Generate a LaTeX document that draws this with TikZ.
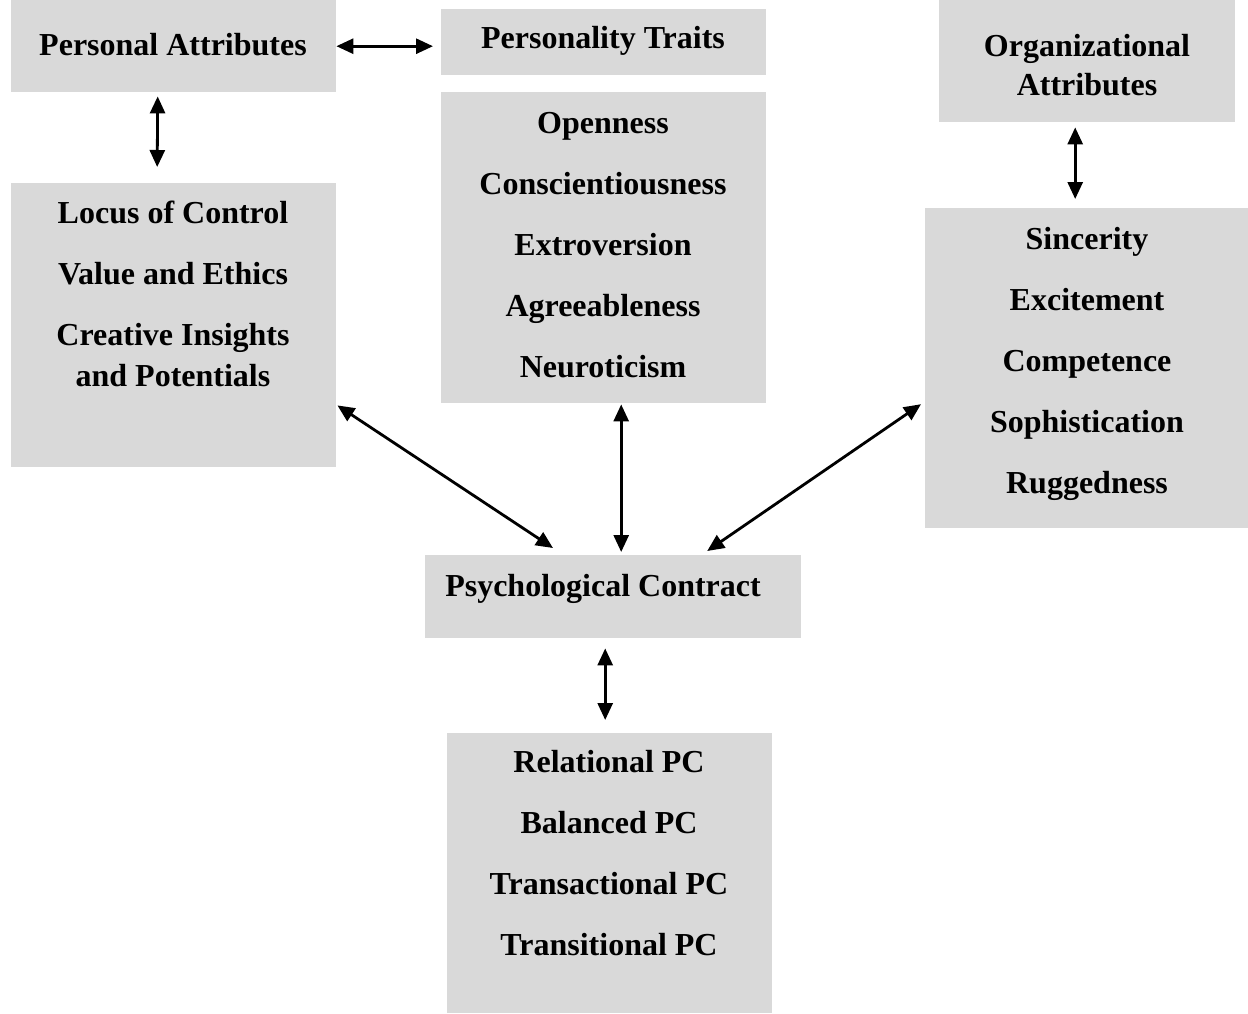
\documentclass[tikz,border=0pt]{standalone}
\usepackage{fontspec}
\setmainfont{Liberation Serif}
\usetikzlibrary{arrows.meta,calc}
\definecolor{boxgray}{HTML}{D9D9D9}
\begin{document}
\begin{tikzpicture}[x=1pt,y=-1pt,
  box/.style={fill=boxgray, draw=none, inner sep=0pt, anchor=north west},
  lbl/.style={font=\fontsize{32}{41}\selectfont\bfseries, align=center, inner sep=0pt, anchor=base},
  link/.style={line width=2.8pt, {Triangle[length=17pt,width=15pt]}-{Triangle[length=17pt,width=15pt]}}]
\useasboundingbox (0,0) rectangle (1248,1013);
% boxes
\node[box, minimum width=325pt, minimum height=92pt] (pa) at (11,0) {};
\node[box, minimum width=325pt, minimum height=66pt] (pt) at (441,9) {};
\node[box, minimum width=296pt, minimum height=122pt] (org) at (939,0) {};
\node[box, minimum width=325pt, minimum height=284pt] (locus) at (11,183) {};
\node[box, minimum width=325pt, minimum height=311pt] (open) at (441,92) {};
\node[box, minimum width=323pt, minimum height=320pt] (sinc) at (925,208) {};
\node[box, minimum width=376pt, minimum height=83pt] (psych) at (425,555) {};
\node[box, minimum width=325pt, minimum height=280pt] (rel) at (447,733) {};
% texts (anchor = baseline of the last line)
\node[lbl] (pat) at (173,55) {Personal Attributes};
\node[lbl] (ptt) at (603,48) {Personality Traits};
\node[lbl] (orgt) at (1087,95) {Organizational\\[-2pt]Attributes};
\node[lbl] (locust) at (173,386) {Locus of Control\\[20pt]Value and Ethics\\[20pt]Creative Insights\\and Potentials};
\node[lbl] (opent) at (603,377) {Openness\\[20pt]Conscientiousness\\[20pt]Extroversion\\[20pt]Agreeableness\\[20pt]Neuroticism};
\node[lbl] (sinct) at (1087,493) {Sincerity\\[20pt]Excitement\\[20pt]Competence\\[20pt]Sophistication\\[20pt]Ruggedness};
\node[lbl] (psycht) at (603,596) {Psychological Contract};
\node[lbl] (relt) at (609,955) {Relational PC\\[20pt]Balanced PC\\[20pt]Transactional PC\\[20pt]Transitional PC};
% connectors
\draw[link, shorten >=8pt] (pa.east) -- (pa.east -| pt.west);
\draw[link] ($(pa.south)+(-16,4)$) -- ($(locus.north)+(-16.5,-16)$);
\draw[link] ($(org.south)+(-12,5)$) -- ($(sinc.north)+(-11.5,-9)$);
\draw[link] ($(locus.south east)+(1,-62)$) -- ($(psych.north west)+(128,-7)$);
\draw[link] ($(open.south)+(17.5,1)$) -- ($(psych.north)+(8,-3)$);
\draw[link] ($(sinc.west)+(-4,36)$) -- ($(psych.north)+(94,-4)$);
\draw[link] ($(psych.south)+(-8,10)$) -- ($(rel.north)+(-4.5,-13)$);
\end{tikzpicture}
\end{document}
